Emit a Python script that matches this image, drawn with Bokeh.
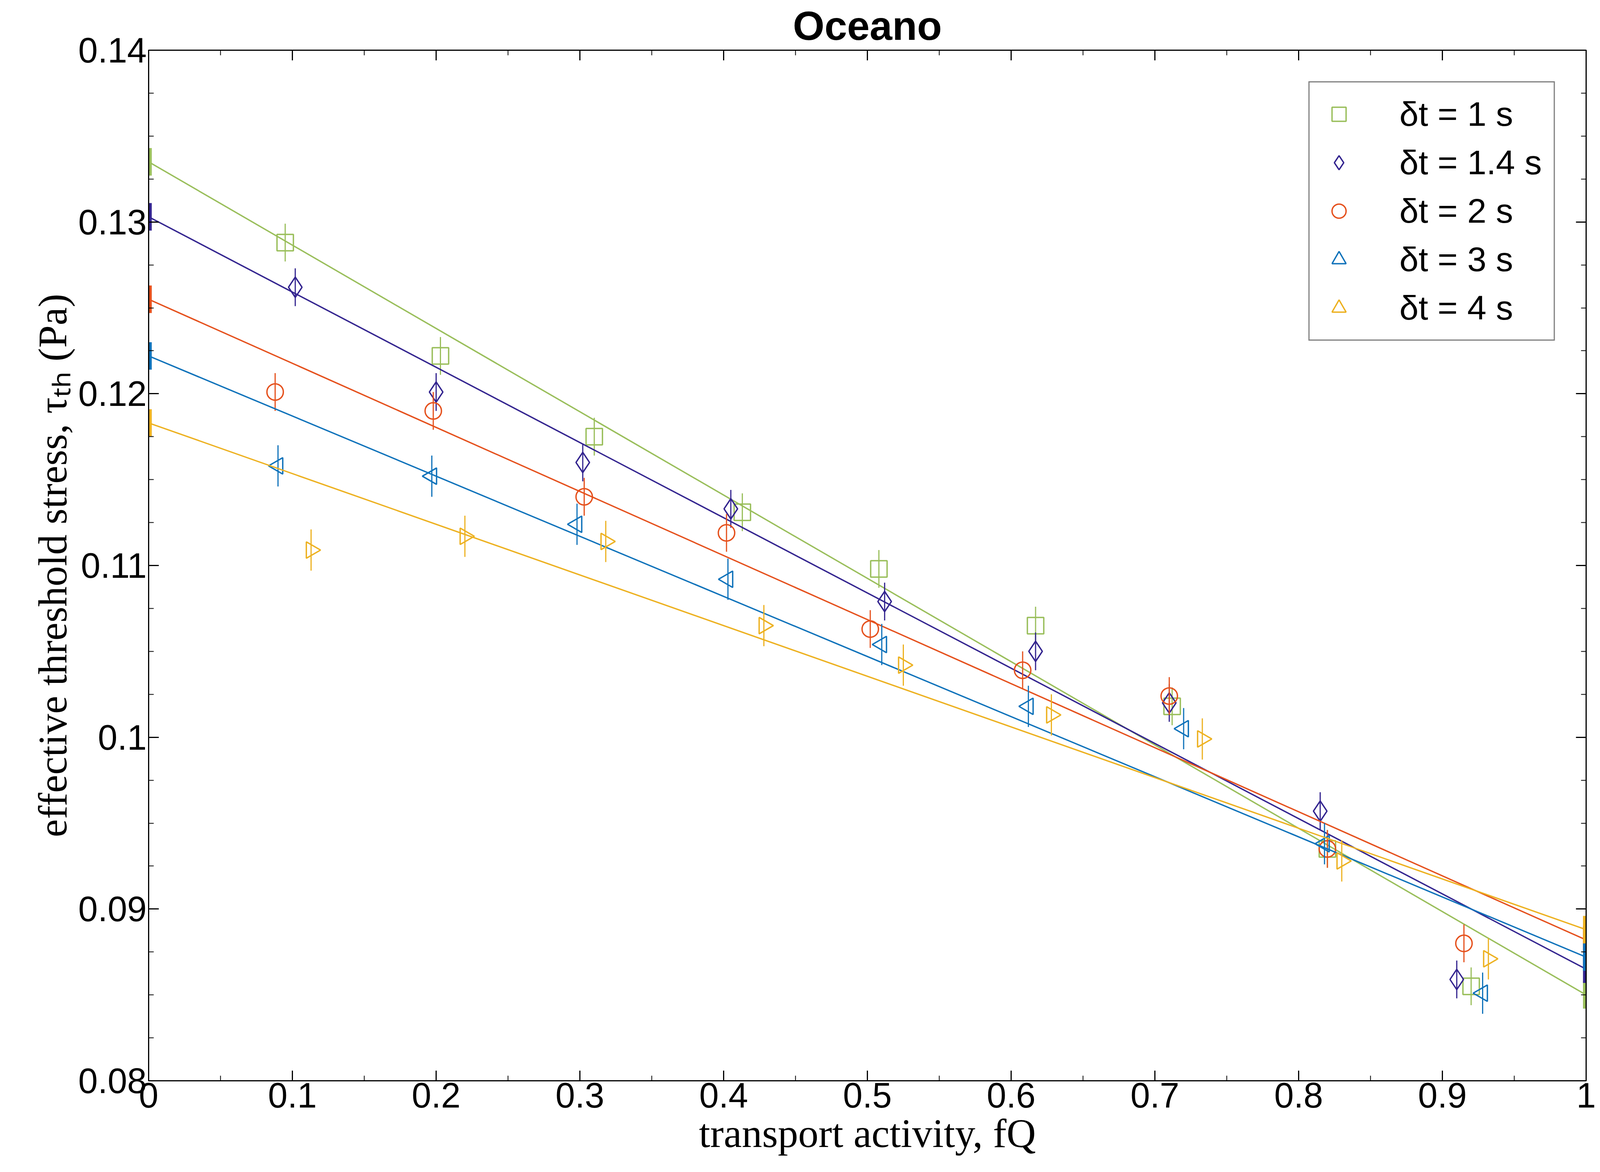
from bokeh.plotting import figure
from bokeh.models import Range1d, LinearAxis, Legend, LegendItem, FixedTicker
from bokeh.embed import file_html
from bokeh.resources import INLINE

# transport activity and threshold stress, per sampling interval
labels = ["δt = 1 s", "δt = 1.4 s", "δt = 2 s", "δt = 3 s", "δt = 4 s"]
colors = ["#99BE5A", "#33248F", "#E5501C", "#0F72BA", "#EDB120"]
markers = ["square", "diamond", "circle", "triangle", "triangle"]
angles = [0, 0, 0, 1.5708, -1.5708]

fq = [
    [0.095, 0.203, 0.310, 0.413, 0.508, 0.617, 0.712, 0.820, 0.920],
    [0.102, 0.200, 0.302, 0.405, 0.512, 0.617, 0.710, 0.815, 0.910],
    [0.088, 0.198, 0.303, 0.402, 0.502, 0.608, 0.710, 0.820, 0.915],
    [0.090, 0.197, 0.298, 0.403, 0.510, 0.612, 0.720, 0.818, 0.928],
    [0.113, 0.220, 0.318, 0.428, 0.525, 0.628, 0.733, 0.830, 0.932],
]
tau = [
    [0.1288, 0.1222, 0.1175, 0.1131, 0.1098, 0.1065, 0.1018, 0.0935, 0.0855],
    [0.1262, 0.1201, 0.1160, 0.1133, 0.1079, 0.1050, 0.1020, 0.0957, 0.0859],
    [0.1201, 0.1190, 0.1140, 0.1119, 0.1063, 0.1039, 0.1024, 0.0935, 0.0880],
    [0.1158, 0.1152, 0.1124, 0.1092, 0.1054, 0.1018, 0.1005, 0.0938, 0.0851],
    [0.1109, 0.1117, 0.1114, 0.1065, 0.1042, 0.1013, 0.0999, 0.0928, 0.0871],
]
err = [0.0011, 0.0011, 0.0011, 0.0012, 0.0012]
# fitted line: value at fQ=0 and at fQ=1
fit0 = [0.1335, 0.1303, 0.1255, 0.1222, 0.1183]
fit1 = [0.0850, 0.0865, 0.0882, 0.0872, 0.0888]
fit_err = [0.0008, 0.0008, 0.0008, 0.0008, 0.0008]

p = figure(width=4150, height=2960, output_backend="svg", toolbar_location=None,
           x_range=Range1d(0, 1), y_range=Range1d(0.08, 0.14),
           title="Oceano", min_border_left=380, min_border_right=90,
           min_border_top=40, min_border_bottom=60)
p.title.align = "center"
p.title.text_font = "Liberation Sans"
p.title.text_font_size = "104px"
p.title.text_font_style = "bold"
p.title.text_color = "black"

p.xgrid.grid_line_color = None
p.ygrid.grid_line_color = None
p.outline_line_color = "black"
p.outline_line_width = 3

p.xaxis.axis_label = "transport activity, fQ"
p.yaxis.axis_label = "effective threshold stress, τₜₕ (Pa)"
p.xaxis.ticker = FixedTicker(ticks=[i / 10 for i in range(11)],
                             minor_ticks=[i / 20 for i in range(21)])
p.yaxis.ticker = FixedTicker(ticks=[0.08, 0.09, 0.1, 0.11, 0.12, 0.13, 0.14],
                             minor_ticks=[0.08 + i * 0.0025 for i in range(25)])
p.xaxis.major_label_overrides = {0: "0", 1: "1"}
p.yaxis.major_label_overrides = {0.1: "0.1"}

for ax in [p.xaxis[0], p.yaxis[0]]:
    ax.axis_label_text_font = "Liberation Serif"
    ax.axis_label_text_font_size = "104px"
    ax.axis_label_text_font_style = "normal"
    ax.axis_label_text_color = "black"
    ax.major_label_text_font = "Liberation Sans"
    ax.major_label_text_font_size = "90px"
    ax.major_label_text_color = "black"
    ax.major_tick_in = 26
    ax.major_tick_out = 0
    ax.minor_tick_in = 13
    ax.minor_tick_out = 0
    ax.axis_line_width = 3
    ax.major_tick_line_width = 3
    ax.minor_tick_line_width = 2

for loc in ["right", "above"]:
    ax = LinearAxis(ticker=p.yaxis.ticker if loc == "right" else p.xaxis.ticker,
                    major_label_text_color=None, major_label_text_font_size="10px",
                    axis_label=None,
                    major_tick_in=26, major_tick_out=0, minor_tick_in=13,
                    minor_tick_out=0, axis_line_width=3,
                    major_tick_line_width=3, minor_tick_line_width=2)
    p.add_layout(ax, loc)

items = []
for i in range(5):
    c = colors[i]
    p.line([0, 1], [fit0[i], fit1[i]], line_color=c, line_width=3.5)
    p.segment(x0=[0, 1], y0=[fit0[i] - fit_err[i], fit1[i] - fit_err[i]],
              x1=[0, 1], y1=[fit0[i] + fit_err[i], fit1[i] + fit_err[i]],
              line_color=c, line_width=16)
    lo = [t - err[i] for t in tau[i]]
    hi = [t + err[i] for t in tau[i]]
    p.segment(x0=fq[i], y0=lo, x1=fq[i], y1=hi, line_color=c, line_width=3)
    r = p.scatter(fq[i], tau[i], marker=markers[i], size=42 if i != 1 else 52,
                  angle=angles[i], fill_color=None, line_color=c, line_width=3.5)
    items.append(LegendItem(label=labels[i], renderers=[r]))

legend = Legend(items=items, location="top_right", label_text_font="Liberation Sans",
                label_text_font_size="88px", label_text_color="black",
                glyph_width=90, glyph_height=90,
                label_standoff=110, padding=30, spacing=22, margin=80,
                border_line_color="black", border_line_width=3,
                label_width=300)
p.add_layout(legend)

open("out.html", "w").write(file_html(p, INLINE))
